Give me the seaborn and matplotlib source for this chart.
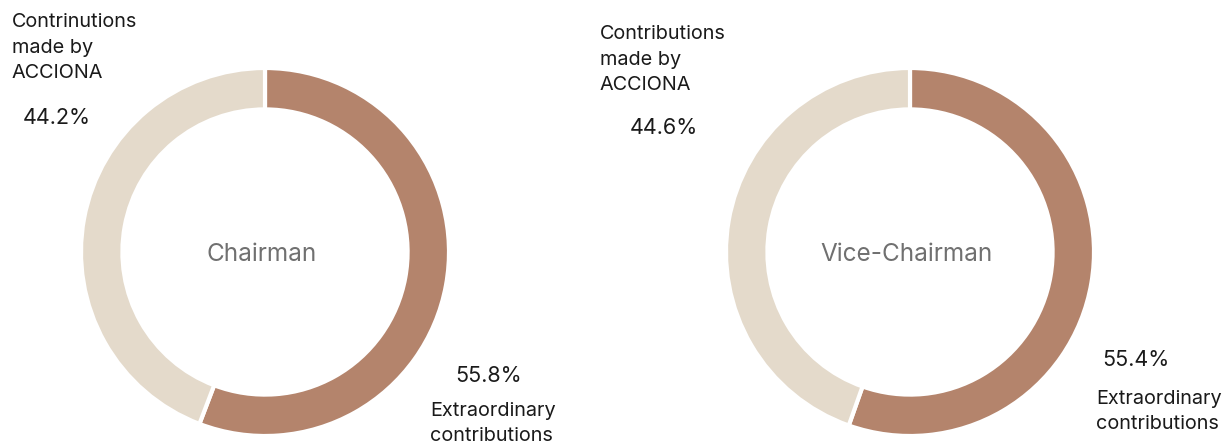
import matplotlib
matplotlib.use("Agg")
import matplotlib.pyplot as plt
import seaborn as sns

# data
titles = ["Chairman", "Vice-Chairman"]
extraordinary = [55.8, 55.4]
acciona = [44.2, 44.6]
acciona_labels = ["Contrinutions\nmade by\nACCIONA", "Contributions\nmade by\nACCIONA"]
extra_label = "Extraordinary\ncontributions"

sns.set_theme(style="white")
plt.rcParams['font.family'] = ['Inter', 'DejaVu Sans']

colors = ["#b4846c", "#e4dacb"]
W, H = 1223, 447
fig = plt.figure(figsize=(W / 100, H / 100), dpi=100)


def px(x, y):
    # pixel coords (top-left origin) -> figure fraction
    return x / W, 1 - y / H


centers = [(265, 252), (910, 252)]
R = 184
for i, (cx, cy) in enumerate(centers):
    ax = fig.add_axes([(cx - R) / W, (H - cy - R) / H, 2 * R / W, 2 * R / H])
    ax.pie([extraordinary[i], acciona[i]], colors=colors, startangle=90,
           counterclock=False, radius=1,
           wedgeprops=dict(width=0.225, edgecolor="white", linewidth=3))
    ax.set_xlim(-1, 1)
    ax.set_ylim(-1, 1)
    ax.set_aspect("equal")
    ax.axis("off")
    ax.text(-0.02, -0.015, titles[i], ha="center", va="center", fontsize=17.5, color="#707070")

# label positions in pixels
lab_a = [(12, 13), (600, 25)]
pct_a = [(57, 118), (664, 128)]
pct_e = [(489, 376), (1136, 360)]
lab_e = [(430, 402), (1096, 390)]

for i in range(2):
    fig.text(*px(*lab_a[i]), acciona_labels[i], ha="left", va="top",
             fontsize=14.3, linespacing=1.55, color="#1a1a1a")
    fig.text(*px(*pct_a[i]), f"{acciona[i]}%", ha="center", va="center",
             fontsize=15.5, color="#1a1a1a")
    fig.text(*px(*pct_e[i]), f"{extraordinary[i]}%", ha="center", va="center",
             fontsize=15.5, color="#1a1a1a")
    fig.text(*px(*lab_e[i]), extra_label, ha="left", va="top",
             fontsize=14.3, linespacing=1.5, color="#1a1a1a")

fig.savefig("out.png", dpi=100)
